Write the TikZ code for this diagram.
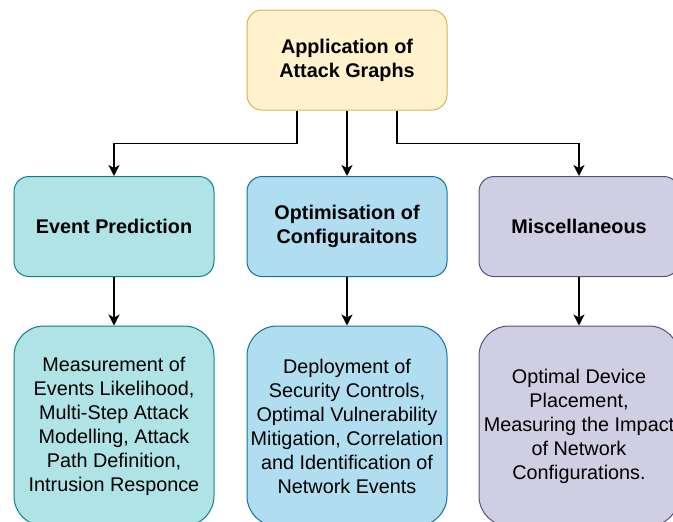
\documentclass[tikz,border=0pt]{standalone}
\usepackage{fontspec}
\setmainfont{Liberation Sans}
\usetikzlibrary{arrows.meta}

\definecolor{appfill}{HTML}{FFF2CC}
\definecolor{appline}{HTML}{D6B656}
\definecolor{evfill}{HTML}{B0E3E6}
\definecolor{evline}{HTML}{0E8088}
\definecolor{optfill}{HTML}{B1DDF0}
\definecolor{optline}{HTML}{10739E}
\definecolor{miscfill}{HTML}{D0CEE2}
\definecolor{miscline}{HTML}{56517E}

\begin{document}
\begin{tikzpicture}[x=1pt,y=-1pt]
		\tikzstyle{box}=[shape=rectangle, rounded corners=15pt, line width=1pt, minimum width=200pt, minimum height=100pt, align=center, inner sep=0pt, font=\fontsize{19.8}{24}\selectfont];
		\tikzstyle{head}=[box, font=\fontsize{19.8}{24}\selectfont\bfseries];
		\tikzstyle{tall}=[box, rounded corners=30pt, minimum height=200pt];
		\tikzstyle{arrow}=[line width=1.4pt, -{Stealth[length=11pt,width=11pt,inset=3pt]}];

		\clip (0,0) rectangle (673,522);
		\useasboundingbox (0,0) rectangle (673,522);

		\node[head, fill=appfill, draw=appline] (App) at (347,60) {Application of\\Attack Graphs};

		\node[head, fill=evfill, draw=evline] (Event) at (114,226.5) {Event Prediction};
		\node[head, fill=optfill, draw=optline] (Optim) at (347,226.5) {Optimisation of\\Configuraitons};
		\node[head, fill=miscfill, draw=miscline] (Misc) at (579,226.5) {Miscellaneous};

		\node[tall, fill=evfill, draw=evline] (EventUses) at (114,426) {Measurement of\\Events Likelihood,\\Multi-Step Attack\\Modelling, Attack\\Path Definition,\\Intrusion Responce};
		\node[tall, fill=optfill, draw=optline] (OptimUses) at (347,426) {Deployment of\\Security Controls,\\Optimal Vulnerability\\Mitigation, Correlation\\and Identification of\\Network Events};
		\node[tall, fill=miscfill, draw=miscline] (MiscUses) at (579,426) {Optimal Device\\Placement,\\Measuring the Impact\\of Network\\Configurations.};

		\draw[arrow] ([xshift=-50pt]App.south) -- ++(0,33) -| (Event.north) ;
		\draw[arrow] (App) to (Optim) ;
		\draw[arrow] ([xshift=50pt]App.south) -- ++(0,33) -| (Misc.north) ;

		\draw[arrow] (Event) to (EventUses) ;
		\draw[arrow] (Optim) to (OptimUses) ;
		\draw[arrow] (Misc) to (MiscUses) ;
\end{tikzpicture}
\end{document}
